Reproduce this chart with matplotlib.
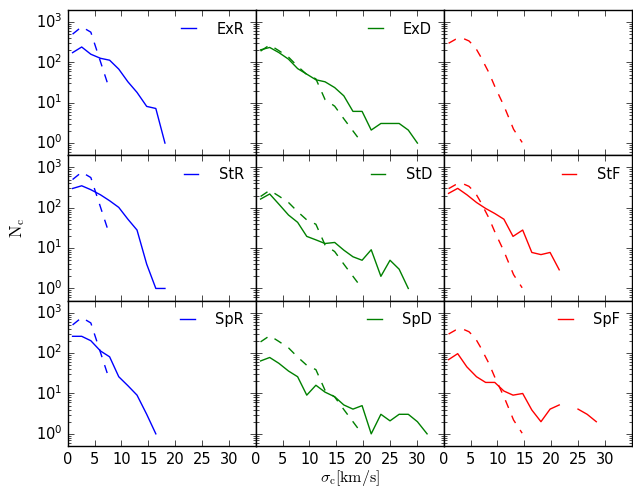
#!/usr/bin/env python3
"""Velocity-dispersion distributions N_c(sigma_c) for the nine cluster samples.

Rows: Ex / St / Sp runs; columns: R / D / F.  Dashed curve in each column is
the reference distribution for that column.
"""
import numpy as np
import matplotlib
matplotlib.use("Agg")
import matplotlib.pyplot as plt

plt.style.use("classic")
matplotlib.rcParams.update({
    "figure.facecolor": "white",
    "savefig.facecolor": "white",
    "mathtext.fontset": "cm",
    "font.size": 10,
    "xtick.labelsize": 10.5,
    "ytick.labelsize": 10.5,
    "legend.fontsize": 10.5,
})

# bin centres in km/s
SIGMA = [0.9, 2.6, 4.3, 6.1, 7.8, 9.5, 11.2, 12.9, 14.7, 16.4,
         18.1, 19.8, 21.5, 23.3, 25.0, 26.7, 28.4, 30.1, 31.9]

# reference distributions (dashed)
REF_R_X = [0.9, 2.6, 4.3, 7.8]
REF_R = [500, 760, 560, 21]
REF_D_X = [0.9, 2.6, 4.3, 6.1, 7.8, 9.5, 11.2, 12.9, 14.7, 16.4, 18.1, 19.8]
REF_D = [190, 270, 195, 135, 80, 50, 39, 12, 8.2, 4.0, 2.0, 1.0]
REF_F_X = [0.9, 2.2, 3.7, 4.7, 5.9, 6.8, 8.4, 9.6, 11.2, 12.1, 13.0, 13.6, 14.6]
REF_F = [297, 372, 387, 339, 232, 144, 56, 23.7, 8.4, 4.3, 2.2, 1.66, 1.04]

# sample counts (solid)
ExR = [174, 240, 159, 126, 113, 68, 33, 18, 8.1, 7.2, 1.0]
ExD = [204, 234, 175, 120, 70, 51, 37, 33, 23.7, 14.8, 6.1, 6.1,
       2.1, 3.06, 3.06, 3.06, 2.1, 1.0]
StR = [300, 350, 280, 209, 149, 102, 52, 28, 4.0, 1.0, 1.0]
StD = [164, 219, 123, 66, 43.5, 19.5, 16, 13, 13.8, 8.9, 6.1, 5.0,
       9.1, 2.0, 5.0, 3.0, 1.0]
StF = [227, 302, 210, 135, 96, 72, 52, 19.5, 28, 7.8, 6.9, 7.8, 2.9]
SpR = [261, 261, 203, 113, 81, 26, 15.6, 9.1, 3.05, 1.0]
SpD = [64, 78, 56, 36, 26, 9.1, 16, 10.8, 8.3, 5.2, 4.1, 5.0,
       1.0, 3.05, 2.1, 3.05, 3.05, 2.0, 1.0]
SpF = [69, 97, 45.7, 26, 18.8, 18.8, 11.5, 9.1, 10, 3.9, 2.0, 4.1,
       5.2, np.nan, 4.1, 3.05, 2.0]

ROWS = ["Ex", "St", "Sp"]
COLS = ["R", "D", "F"]
COLORS = {"R": "b", "D": "g", "F": "r"}
REFS = {"R": (REF_R_X, REF_R), "D": (REF_D_X, REF_D), "F": (REF_F_X, REF_F)}
SAMPLES = {"ExR": ExR, "ExD": ExD, "ExF": None,
           "StR": StR, "StD": StD, "StF": StF,
           "SpR": SpR, "SpD": SpD, "SpF": SpF}


def main():
    fig, axes = plt.subplots(3, 3, figsize=(6.33, 4.92), dpi=100,
                             sharex=True, sharey=True)
    fig.subplots_adjust(left=0.107, right=0.998, top=0.980, bottom=0.0935,
                        wspace=0, hspace=0)

    for i, row in enumerate(ROWS):
        for j, col in enumerate(COLS):
            ax = axes[i, j]
            c = COLORS[col]
            name = row + col
            rx, ry = REFS[col]
            ax.plot(rx, ry, color=c, ls="--", lw=1.0)
            ys = SAMPLES[name]
            if ys is not None:
                ax.plot(SIGMA[:len(ys)], ys, color=c, lw=1.0, label=name)
                ax.legend(loc="upper right", frameon=False, handlelength=1.6,
                          handletextpad=1.1, borderaxespad=0.4)
            ax.set_yscale("log")
            ax.set_xlim(0, 35)
            ax.set_ylim(0.5, 2000)
            ax.set_xticks(range(0, 35, 5))
            ax.tick_params(which="both", direction="in", top=True, right=True)

    axes[1, 0].set_ylabel(r"$\rm N_c$", fontsize=12, labelpad=6)
    axes[2, 1].set_xlabel(r"$\sigma_{\rm c}[{\rm km/s}]$", fontsize=11.5,
                          labelpad=1)

    fig.savefig("out.png", dpi=100)
    plt.close(fig)


if __name__ == "__main__":
    main()
